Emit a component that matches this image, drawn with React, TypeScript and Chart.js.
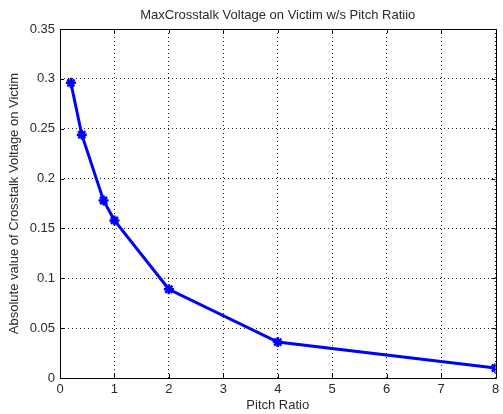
import React, { useEffect, useRef } from "react";
import { Chart, registerables } from "chart.js";

Chart.register(...registerables);

const chartTitle = "MaxCrosstalk Voltage on Victim w/s Pitch Ratiio";
const xLabel = "Pitch Ratio";
const yLabel = "Absolute value of Crosstalk Voltage on Victim";
const pitchRatio = [0.2, 0.4, 0.8, 1, 2, 4, 8];
const crosstalk = [0.296, 0.244, 0.178, 0.158, 0.089, 0.036, 0.01];
const xTicks = [0, 1, 2, 3, 4, 5, 6, 7, 8];
const yTicks = [0, 0.05, 0.1, 0.15, 0.2, 0.25, 0.3, 0.35];

const FONT = "'Liberation Sans', Arial, sans-serif";
const TEXT = "#2a2a2a";

const framePlugin = {
  id: "matlabFrame",
  beforeDatasetsDraw(chart: any) {
    const { ctx, chartArea } = chart;
    const { left, right, top, bottom } = chartArea;
    const xs = chart.scales.x;
    const ys = chart.scales.y;
    ctx.save();
    ctx.strokeStyle = "#000";
    ctx.lineWidth = 1;
    ctx.setLineDash([]);
    ctx.beginPath();
    ctx.rect(Math.round(left) + 0.5, Math.round(top) + 0.5, Math.round(right - left), Math.round(bottom - top));
    ctx.stroke();
    ctx.beginPath();
    for (const v of xTicks) {
      const px = Math.round(xs.getPixelForValue(v)) + 0.5;
      ctx.moveTo(px, bottom);
      ctx.lineTo(px, bottom - 4);
      ctx.moveTo(px, top);
      ctx.lineTo(px, top + 4);
    }
    for (const v of yTicks) {
      const py = Math.round(ys.getPixelForValue(v)) + 0.5;
      ctx.moveTo(left, py);
      ctx.lineTo(left + 4, py);
      ctx.moveTo(right, py);
      ctx.lineTo(right - 4, py);
    }
    ctx.stroke();
    ctx.restore();
  },
};

export default function App() {
  const ref = useRef<HTMLCanvasElement | null>(null);
  useEffect(() => {
    if (!ref.current) return;
    const chart = new Chart(ref.current, {
      type: "line",
      data: {
        datasets: [
          {
            data: pitchRatio.map((x, i) => ({ x, y: crosstalk[i] })),
            borderColor: "#0000ff",
            backgroundColor: "#0000ff",
            borderWidth: 3,
            pointStyle: "star",
            pointRadius: 5,
            pointBorderWidth: 2.5,
            pointBorderColor: "#0000ff",
            tension: 0,
          },
        ],
      },
      plugins: [framePlugin],
      options: {
        responsive: false,
        animation: false,
        events: [],
        layout: { padding: { top: 0, right: 3, left: 0, bottom: 0 } },
        plugins: {
          legend: { display: false },
          tooltip: { enabled: false },
          title: {
            display: true,
            text: chartTitle,
            fullSize: false,
            color: TEXT,
            font: { family: FONT, size: 13, weight: "normal" },
            padding: { top: 7.2, bottom: 6.2 },
          },
        },
        scales: {
          x: {
            type: "linear",
            min: 0,
            max: 8,
            afterBuildTicks: (s: any) => {
              s.ticks = xTicks.map((v) => ({ value: v }));
            },
            afterFit: (s: any) => {
              s.height = 36;
              s.paddingLeft = 0;
              s.paddingRight = 0;
            },
            grid: { color: "#222", lineWidth: 1, drawTicks: false },
            border: { display: false, dash: [1, 3] },
            ticks: {
              color: TEXT,
              font: { family: FONT, size: 13 },
              padding: 4,
              maxRotation: 0,
              autoSkip: false,
            },
            title: {
              display: true,
              text: xLabel,
              color: TEXT,
              font: { family: FONT, size: 13 },
              padding: { top: 0, bottom: 1.2 },
            },
          },
          y: {
            type: "linear",
            min: 0,
            max: 0.35,
            afterBuildTicks: (s: any) => {
              s.ticks = yTicks.map((v) => ({ value: v }));
            },
            afterFit: (s: any) => {
              s.width = 60;
              s.paddingTop = 0;
              s.paddingBottom = 0;
            },
            grid: { color: "#222", lineWidth: 1, drawTicks: false },
            border: { display: false, dash: [1, 3] },
            ticks: {
              color: TEXT,
              font: { family: FONT, size: 13 },
              padding: 5,
              autoSkip: false,
              callback: (v: any) => String(Math.round(Number(v) * 100) / 100),
            },
            title: {
              display: true,
              text: yLabel,
              color: TEXT,
              font: { family: FONT, size: 13 },
              padding: { top: 6.2, bottom: 0 },
            },
          },
        },
      },
    } as any);
    return () => chart.destroy();
  }, []);
  return (
    <div style={{ position: "fixed", left: 0, top: 0, width: 503, height: 414, background: "#fff" }}>
      <canvas ref={ref} width={503} height={414} style={{ display: "block", width: 503, height: 414 }} />
    </div>
  );
}
